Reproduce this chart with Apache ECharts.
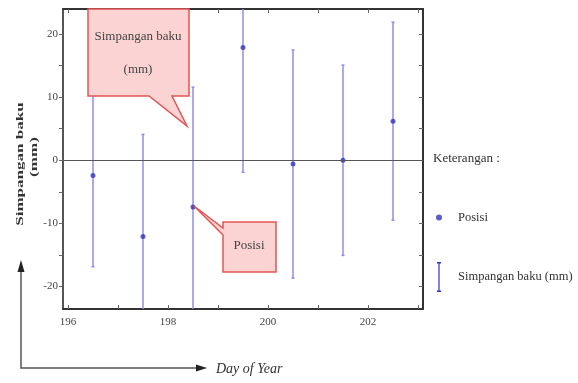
<!DOCTYPE html>
<html>
<head>
<meta charset="utf-8">
<script src="https://cdn.jsdelivr.net/npm/echarts@6/dist/echarts.min.js"></script>
<style>
  html, body { margin: 0; padding: 0; background: #fff; }
  #main { width: 578px; height: 383px; }
</style>
</head>
<body>
<div id="main"></div>
<script>
// day of year (centre of each bar)
const days = [196.5, 197.5, 198.5, 199.5, 200.5, 201.5, 202.5]
// posisi (mean), mm
const means = [-2.4, -12.1, -7.4, 17.9, -0.6, 0, 6.2]
// simpangan baku (std dev), mm
const sds = [14.5, 16.2, 19.0, 19.8, 18.1, 15.1, 15.7]

const xLabels = [196, 198, 200, 202]
const xTicks = [196, 197, 198, 199, 200, 201, 202, 203]
const yLabels = [-20, -10, 0, 10, 20]
const yTicks = [-20, -15, -10, -5, 0, 5, 10, 15, 20]

const serif = 'Liberation Serif'
const frame = { onZero: false, lineStyle: { color: '#333', width: 2 } }

const posisi = days.map((d, i) => [d, means[i]])
const errBars = days.map((d, i) => [d, means[i] - sds[i], means[i] + sds[i]])

const chart = echarts.init(document.getElementById('main'))

// callout boxes drawn as annotations
const callout1 = [[88, 9], [189, 9], [189, 96], [172, 96], [187, 126], [149, 96], [88, 96]]
const callout2 = [[223, 222], [276, 222], [276, 272], [223, 272], [223, 235], [194, 206], [223, 228]]

const option = {
  animation: false,
  grid: { left: 63, top: 9, right: 155, bottom: 74 },
  title: {
    text: 'Keterangan :',
    left: 433,
    top: 152,
    padding: 0,
    textStyle: { fontFamily: serif, fontSize: 13, fontWeight: 'normal', color: '#333' }
  },
  legend: {
    orient: 'vertical',
    left: 436,
    top: 211,
    padding: 0,
    itemWidth: 6,
    itemHeight: 30,
    itemGap: 38,
    textStyle: { fontFamily: serif, fontSize: 12.5, color: '#333', padding: [0, 0, 0, 11] },
    data: [
      { name: 'Posisi', icon: 'circle', itemStyle: { color: '#3434b8' } },
      {
        name: 'Simpangan baku (mm)',
        icon: 'path://M0,0H4V1.5H2.6V28.5H4V30H0V28.5H1.4V1.5H0Z',
        itemStyle: { color: '#3434b8' }
      }
    ]
  },
  xAxis: [
    {
      type: 'value',
      min: 195.9,
      max: 203.1,
      axisLine: frame,
      splitLine: { show: false },
      axisTick: { inside: true, length: 4, customValues: xTicks, lineStyle: { color: '#666' } },
      axisLabel: { customValues: xLabels, fontFamily: serif, fontSize: 11, color: '#444', margin: 8 }
    },
    {
      type: 'value',
      position: 'top',
      min: 195.9,
      max: 203.1,
      axisLine: frame,
      splitLine: { show: false },
      axisTick: { inside: true, length: 4, customValues: xTicks, lineStyle: { color: '#666' } },
      axisLabel: { show: false }
    }
  ],
  yAxis: [
    {
      type: 'value',
      min: -23.6,
      max: 24,
      axisLine: { show: true, onZero: false, lineStyle: { color: '#555', width: 2 } },
      splitLine: { show: false },
      axisTick: { show: true, inside: false, length: 4, customValues: yTicks, lineStyle: { color: '#666' } },
      axisLabel: { customValues: yLabels, fontFamily: serif, fontSize: 11, color: '#444', margin: 5 }
    },
    {
      type: 'value',
      position: 'right',
      min: -23.6,
      max: 24,
      axisLine: { show: true, onZero: false, lineStyle: { color: '#333', width: 2 } },
      splitLine: { show: false },
      axisTick: { show: true, inside: true, length: 4, customValues: yTicks, lineStyle: { color: '#666' } },
      axisLabel: { show: false }
    }
  ],
  series: [
    {
      name: 'Simpangan baku (mm)',
      type: 'custom',
      clip: true,
      data: errBars,
      renderItem: (params, api) => {
        const lo = api.coord([api.value(0), api.value(1)])
        const hi = api.coord([api.value(0), api.value(2)])
        const style = { stroke: '#8e8ee6', lineWidth: 1.5 }
        return {
          type: 'group',
          children: [
            { type: 'line', shape: { x1: lo[0], y1: lo[1], x2: hi[0], y2: hi[1] }, style },
            { type: 'line', shape: { x1: lo[0] - 1.5, y1: lo[1], x2: lo[0] + 1.5, y2: lo[1] }, style },
            { type: 'line', shape: { x1: hi[0] - 1.5, y1: hi[1], x2: hi[0] + 1.5, y2: hi[1] }, style }
          ]
        }
      }
    },
    {
      name: 'Posisi',
      type: 'scatter',
      symbolSize: 5,
      itemStyle: { color: '#3434b8' },
      data: posisi,
      z: 3,
      markLine: {
        silent: true,
        symbol: 'none',
        label: { show: false },
        lineStyle: { color: '#555', width: 1, type: 'solid' },
        data: [{ yAxis: 0 }]
      }
    }
  ],
  graphic: [
    {
      type: 'polygon',
      shape: { points: callout1 },
      style: { fill: '#fbd3d3', stroke: '#e25555', lineWidth: 1.5 },
      z: 10
    },
    {
      type: 'text',
      x: 138, y: 37, z: 11,
      style: { text: 'Simpangan baku', fontFamily: serif, fontSize: 13, fill: '#444', align: 'center', verticalAlign: 'middle' }
    },
    {
      type: 'text',
      x: 138, y: 70, z: 11,
      style: { text: '(mm)', fontFamily: serif, fontSize: 13, fill: '#444', align: 'center', verticalAlign: 'middle' }
    },
    {
      type: 'polygon',
      shape: { points: callout2 },
      style: { fill: '#fbd3d3', stroke: '#e25555', lineWidth: 1.5 },
      z: 10
    },
    {
      type: 'text',
      x: 249, y: 246, z: 11,
      style: { text: 'Posisi', fontFamily: serif, fontSize: 13, fill: '#444', align: 'center', verticalAlign: 'middle' }
    },
    // y axis title, rotated
    {
      type: 'text',
      x: 20, y: 164, rotation: Math.PI / 2, scaleX: 1.55,
      style: { text: 'Simpangan baku', fontFamily: serif, fontSize: 11, fontWeight: 'bold', fill: '#333', align: 'center', verticalAlign: 'middle' }
    },
    {
      type: 'text',
      x: 34, y: 157, rotation: Math.PI / 2, scaleX: 1.55,
      style: { text: '(mm)', fontFamily: serif, fontSize: 11, fontWeight: 'bold', fill: '#333', align: 'center', verticalAlign: 'middle' }
    },
    // corner arrow
    {
      type: 'polyline',
      shape: { points: [[21, 270], [21, 368], [200, 368]] },
      style: { stroke: '#555', lineWidth: 1.5, fill: null }
    },
    {
      type: 'polygon',
      shape: { points: [[21, 260], [17.5, 272], [24.5, 272]] },
      style: { fill: '#222' }
    },
    {
      type: 'polygon',
      shape: { points: [[207, 368], [196, 364.5], [196, 371.5]] },
      style: { fill: '#222' }
    },
    {
      type: 'text',
      x: 216, y: 369,
      style: { text: 'Day of Year', fontFamily: serif, fontSize: 14, fontStyle: 'italic', fill: '#333', verticalAlign: 'middle' }
    }
  ]
}

chart.setOption(option)
</script>
</body>
</html>
